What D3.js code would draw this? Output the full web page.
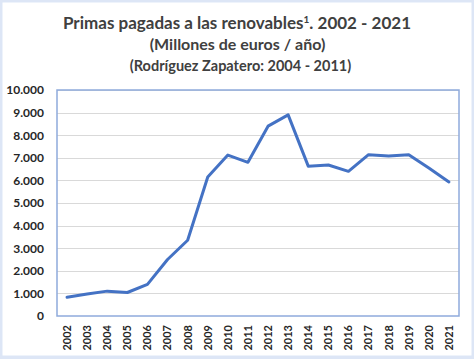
<!DOCTYPE html>
<html><head><meta charset="utf-8">
<script src="https://cdn.jsdelivr.net/npm/d3@7"></script>
<style>body{margin:0;background:#fff}svg{display:block}</style>
</head><body>
<script>
const years = ["2002","2003","2004","2005","2006","2007","2008","2009","2010","2011","2012","2013","2014","2015","2016","2017","2018","2019","2020","2021"];
const primas = [830, 970, 1100, 1040, 1400, 2500, 3350, 6150, 7120, 6800, 8400, 8900, 6630, 6680, 6400, 7140, 7080, 7140, 6550, 5930];
const yTicks = [0,1000,2000,3000,4000,5000,6000,7000,8000,9000,10000];
const titleLines = ["Primas pagadas a las renovables", "(Millones de euros / año)", "(Rodríguez Zapatero: 2004 - 2011)"];

const W = 474, H = 359;
const svg = d3.select("body").append("svg").attr("width", W).attr("height", H);
const font = "Lato, 'Open Sans', sans-serif";

svg.append("rect").attr("width", W).attr("height", H).attr("fill", "#dde6f6");
svg.append("rect").attr("x", 2.5).attr("y", 2.5).attr("width", 469).attr("height", 353).attr("fill", "#fff");

const m = {l: 57, r: 459, t: 90, b: 316};
const x = d3.scaleBand().domain(years).range([m.l, m.r]);
const y = d3.scaleLinear().domain([0, 10000]).range([m.b, m.t]);

// gridlines
svg.append("g").selectAll("line").data(yTicks.slice(1)).join("line")
  .attr("x1", m.l).attr("x2", m.r)
  .attr("y1", d => Math.round(y(d)) + 0.5).attr("y2", d => Math.round(y(d)) + 0.5)
  .attr("stroke", "#d9d9d9").attr("stroke-width", 1);

// plot border
svg.append("rect").attr("x", m.l).attr("y", m.t).attr("width", m.r - m.l).attr("height", m.b - m.t)
  .attr("fill", "none").attr("stroke", "#8faadc").attr("stroke-width", 1.5);

// y axis
const fmt = d => d3.format(",")(d).replace(/,/g, ".");
const yAxis = svg.append("g").attr("transform", `translate(${m.l},0)`)
  .call(d3.axisLeft(y).tickValues(yTicks).tickFormat(fmt).tickSize(0).tickPadding(13));
yAxis.select(".domain").remove();
yAxis.selectAll("text").attr("font-family", font).attr("font-weight", "bold")
  .attr("font-size", 12).attr("fill", "#262626");

// x axis
const xAxis = svg.append("g").attr("transform", `translate(0,${m.b})`)
  .call(d3.axisBottom(x).tickSize(0).tickPadding(0));
xAxis.select(".domain").remove();
xAxis.selectAll("text")
  .attr("font-family", font).attr("font-weight", "bold").attr("font-size", 11)
  .attr("fill", "#262626")
  .attr("transform", "rotate(-90)")
  .attr("text-anchor", "end").attr("x", -9).attr("y", 0).attr("dy", "0.35em");

// line
const line = d3.line().x((d, i) => x(years[i]) + x.bandwidth() / 2).y(d => y(d));
svg.append("path").datum(primas).attr("d", line)
  .attr("fill", "none").attr("stroke", "#4472c4").attr("stroke-width", 3)
  .attr("stroke-linejoin", "round").attr("stroke-linecap", "round");

// titles
const t1 = svg.append("text").attr("x", 237).attr("y", 29).attr("text-anchor", "middle")
  .attr("font-family", font).attr("font-weight", "bold").attr("font-size", 17).attr("fill", "#404040");
t1.append("tspan").text(titleLines[0]);
t1.append("tspan").text("1").attr("font-size", 10).attr("dy", -6);
t1.append("tspan").text(". 2002 - 2021").attr("dy", 6);
svg.append("text").attr("x", 237.5).attr("y", 50).attr("text-anchor", "middle")
  .attr("font-family", font).attr("font-weight", "bold").attr("font-size", 16).attr("fill", "#404040")
  .text(titleLines[1]);
svg.append("text").attr("x", 240.5).attr("y", 71).attr("text-anchor", "middle")
  .attr("font-family", font).attr("font-weight", "bold").attr("font-size", 14.5).attr("fill", "#404040")
  .text(titleLines[2]);
</script>
</body></html>
